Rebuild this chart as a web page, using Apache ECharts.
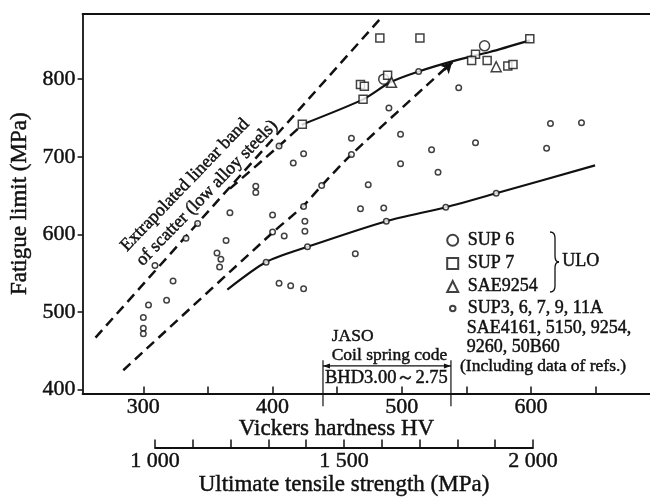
<!DOCTYPE html>
<html>
<head>
<meta charset="utf-8">
<title>Fatigue limit vs hardness</title>
<script src="https://cdn.jsdelivr.net/npm/echarts@6.0.0/dist/echarts.min.js"></script>
<style>
  html, body { margin: 0; padding: 0; background: #fff; }
  #myChart { width: 650px; height: 498px; }
</style>
</head>
<body>
<div id="myChart"></div>
<script>
// axis ticks
const hvTicks = [300, 350, 400, 450, 500, 550, 600, 650]
const hvLabels = [300, 400, 500, 600]
const fatigueTicks = [400, 500, 600, 700, 800]
const tensileTicks = [1000, 1100, 1200, 1300, 1400, 1500, 1600, 1700, 1800, 1900, 2000]
const tensileLabels = [1000, 1500, 2000]

// ULO steels  [HV, fatigue limit MPa]
const sup6 = [[486, 800], [564, 843]]
const sup7 = [[483, 853], [514, 853], [599, 852], [557, 832], [554, 824], [566, 824],
  [582, 817], [586, 819], [468, 793], [471, 791], [470, 774], [423, 742], [489, 805]]
const sae9254 = [[492, 796], [573, 816]]

// SUP3, 6, 7, 9, 11A / SAE4161, 5150, 9254, 9260, 50B60
const others = [[300, 493], [300, 479], [300, 472], [304, 509], [309, 560], [318, 515],
  [323, 540], [333, 595], [342, 614], [357, 576], [360, 568], [359, 558], [364, 592],
  [367, 628], [387, 662], [387, 654], [395, 564], [400, 625], [400, 603], [405, 714],
  [405, 537], [409, 598], [414, 534], [416, 692], [424, 704], [424, 636], [425, 617],
  [425, 604], [427, 584], [424, 530], [438, 663], [461, 724], [461, 703], [464, 575],
  [468, 633], [474, 664], [486, 634], [488, 617], [490, 763], [499, 729], [499, 691],
  [513, 810], [523, 709], [528, 680], [534, 635], [544, 789], [557, 718], [573, 653],
  [612, 711], [615, 743], [639, 744]]

// band of scatter and trend curves
const bandUpper = [[263, 467], [485, 881]]
const bandLower = [[284.5, 425], [400.5, 603], [424, 637], [438, 663], [461, 703], [539, 822]]
const uloDash = [[367, 659], [405, 714], [423.5, 742]]
const uloCurve = [[423.5, 742], [470, 774], [491, 796], [513, 810], [541, 824], [568, 835], [599, 850]]
const othersCurve = [[365, 529], [395, 564.5], [427, 584], [488, 617], [534, 635], [573, 653], [649.5, 689]]

// JASO coil spring code range (HV)
const jasoRange = [439, 538]

const FONT = 'Liberation Serif'
const INK = '#111'
// a touch of outline so the serif text reads as heavy as the print
const heavy = { textBorderColor: INK, textBorderWidth: 0.45 }

const myChart = echarts.init(document.getElementById('myChart'))

const hollow = { color: '#fff', borderColor: INK, borderWidth: 1.5 }
const dashed = { color: INK, width: 2.5, type: [10, 6] }
const solid = { color: INK, width: 2.2 }

function lineSeries (data, style, extra) {
  return Object.assign({
    type: 'line', data: data, symbol: 'none', smooth: 0.25, z: 2,
    lineStyle: style, silent: true
  }, extra || {})
}

function font (size, extra) {
  return Object.assign({ fontFamily: FONT, fontSize: size, color: INK }, heavy, extra || {})
}

const option = {
  animation: false,
  backgroundColor: '#fff',
  textStyle: { fontFamily: FONT, color: INK },
  grid: [
    { left: 82, top: 14, right: 0, bottom: 104.5 },
    { left: 155, width: 378, top: 440, height: 10 }
  ],
  xAxis: [
    {
      gridIndex: 0, type: 'value', min: 253, max: 692,
      axisLine: { lineStyle: { color: INK, width: 1.8 } },
      axisTick: { inside: true, length: 7, customValues: hvTicks, lineStyle: { color: INK, width: 1.5 } },
      axisLabel: font(22, { customValues: hvLabels, margin: 3 }),
      splitLine: { show: false }
    },
    {
      gridIndex: 0, type: 'value', position: 'top', min: 253, max: 692,
      axisLine: { lineStyle: { color: INK, width: 1.8 } },
      axisTick: { show: false }, axisLabel: { show: false }, splitLine: { show: false }
    },
    {
      gridIndex: 1, type: 'value', min: 1000, max: 2000,
      name: 'Ultimate tensile strength (MPa)', nameLocation: 'middle', nameGap: 23,
      nameTextStyle: font(23),
      axisLine: { lineStyle: { color: INK, width: 1.8 } },
      axisTick: { inside: true, length: 8, customValues: tensileTicks, lineStyle: { color: INK, width: 1.5 } },
      axisLabel: font(22, {
        customValues: tensileLabels, margin: 3,
        formatter: v => Math.floor(v / 1000) + ' ' + String(v % 1000).padStart(3, '0')
      }),
      splitLine: { show: false }
    }
  ],
  yAxis: [
    {
      gridIndex: 0, type: 'value', min: 395, max: 884,
      name: 'Fatigue limit (MPa)', nameLocation: 'middle', nameGap: 47,
      nameTextStyle: font(23),
      axisLine: { lineStyle: { color: INK, width: 1.8 } },
      axisTick: { length: 5, customValues: fatigueTicks, lineStyle: { color: INK, width: 1.5 } },
      axisLabel: font(22, { customValues: fatigueTicks, margin: 7 }),
      splitLine: { show: false }
    },
    { gridIndex: 1, type: 'value', show: false }
  ],
  legend: [
    {
      data: [
        { name: 'SUP 6', icon: 'circle' },
        { name: 'SUP 7', icon: 'rect' },
        { name: 'SAE9254', icon: 'triangle' }
      ],
      orient: 'vertical', left: 446.2, top: 231, padding: 0,
      itemWidth: 11, itemHeight: 11, itemGap: 4.7, selectedMode: false,
      textStyle: font(18, { lineHeight: 18, padding: [0, 0, 0, 4.5] })
    },
    {
      data: [{ name: 'SUP3, 6, 7, 9, 11A', icon: 'circle' }],
      orient: 'vertical', left: 449, top: 299.3, padding: 0,
      itemWidth: 5.5, itemHeight: 5.5, selectedMode: false,
      textStyle: font(18, { lineHeight: 18, padding: [0, 0, 0, 7.2] })
    }
  ],
  series: [
    lineSeries(bandUpper, dashed, { smooth: false }),
    lineSeries(bandLower, dashed, {
      markLine: {
        silent: true, symbol: ['none', 'arrow'], symbolSize: [9, 11],
        label: { show: false }, lineStyle: { color: INK, width: 2.2, type: 'solid' },
        data: [[{ coord: bandLower[bandLower.length - 1].map((v, i) => v - [6, 10][i]) },
          { coord: bandLower[bandLower.length - 1] }]]
      }
    }),
    lineSeries(uloDash, dashed),
    lineSeries(uloCurve, solid),
    lineSeries(othersCurve, solid),
    { name: 'SUP 6', type: 'scatter', data: sup6, symbol: 'circle', symbolSize: 10, itemStyle: hollow, z: 4 },
    { name: 'SUP 7', type: 'scatter', data: sup7, symbol: 'rect', symbolSize: 8, itemStyle: hollow, z: 4 },
    { name: 'SAE9254', type: 'scatter', data: sae9254, symbol: 'triangle', symbolSize: 10, itemStyle: hollow, z: 4 },
    { name: 'SUP3, 6, 7, 9, 11A', type: 'scatter', data: others, symbol: 'circle', symbolSize: 5.5, itemStyle: hollow, z: 3 }
  ]
}

myChart.setOption(option)

// annotations positioned through the axis scales
function px (hv, mpa) { return myChart.convertToPixel({ gridIndex: 0 }, [hv, mpa]) }

function txt (text, x, y, size, align, rot) {
  return {
    type: 'text', x: x, y: y, rotation: rot || 0, z: 10,
    style: {
      text: text, fontFamily: FONT, fontSize: size, fill: INK,
      stroke: INK, lineWidth: heavy.textBorderWidth,
      textAlign: align || 'left', textVerticalAlign: 'middle'
    }
  }
}

function seg (p, q, w) {
  return { type: 'line', z: 10, shape: { x1: p[0], y1: p[1], x2: q[0], y2: q[1] }, style: { stroke: INK, lineWidth: w || 1.2 } }
}

function curve (x1, y1, cx, cy, x2, y2) {
  return {
    type: 'bezierCurve', z: 10,
    shape: { x1: x1, y1: y1, cpx1: cx, cpy1: cy, x2: x2, y2: y2 },
    style: { stroke: INK, lineWidth: 1.3, fill: null }
  }
}

const a = px(jasoRange[0], 430.5)
const b = px(jasoRange[1], 430.5)
const rot = 46 * Math.PI / 180

myChart.setOption({
  graphic: [
    txt('Vickers hardness HV', 336.5, 429, 23, 'center'),
    txt('Extrapolated linear band', 185, 185, 18, 'center', rot),
    txt('of scatter (low alloy steels)', 207, 193, 18, 'center', rot),
    txt('SAE4161, 5150, 9254,', 466.7, 328.3, 18),
    txt('9260, 50B60', 466.7, 347.5, 18),
    txt('(Including data of refs.)', 460, 366.7, 17.5),
    txt('ULO', 562.3, 261.7, 18),
    // brace grouping the ULO steels
    curve(550, 232, 555, 232, 555, 238),
    seg([555, 238], [555, 256], 1.3),
    curve(555, 256, 555, 262, 559, 262),
    curve(559, 262, 555, 262, 555, 268),
    seg([555, 268], [555, 286], 1.3),
    curve(555, 286, 555, 292, 550, 292),
    txt('JASO', 331.7, 336, 17.5),
    txt('Coil spring code', 331.7, 355, 17.5),
    txt('BHD3.00～2.75', 325, 378, 18.5),
    seg(px(jasoRange[0], 438), px(jasoRange[0], 378.5)),
    seg(px(jasoRange[1], 438), px(jasoRange[1], 378.5)),
    seg(a, b),
    { type: 'polygon', z: 10, shape: { points: [[a[0], a[1]], [a[0] + 7, a[1] - 2.5], [a[0] + 7, a[1] + 2.5]] }, style: { fill: INK } },
    { type: 'polygon', z: 10, shape: { points: [[b[0], b[1]], [b[0] - 7, b[1] - 2.5], [b[0] - 7, b[1] + 2.5]] }, style: { fill: INK } }
  ]
})
</script>
</body>
</html>
